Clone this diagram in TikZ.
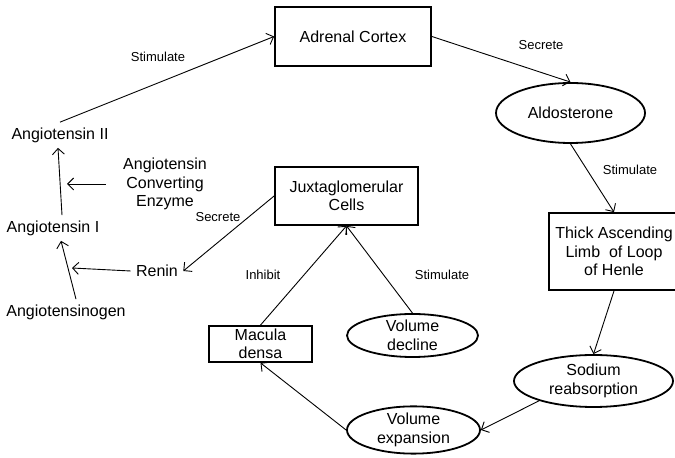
\documentclass[tikz,border=0pt]{standalone}
\usepackage{fontspec}
\setmainfont{Liberation Sans}
\usetikzlibrary{shapes.geometric,arrows.meta}
\begin{document}
\begin{tikzpicture}[x=0.5pt,y=-0.5pt,
  box/.style={draw,line width=0.9pt,align=center,inner sep=0pt,font=\fontsize{8}{9.25}\selectfont},
  oval/.style={ellipse,draw,line width=0.9pt,align=center,inner sep=0pt,font=\fontsize{8}{9.25}\selectfont},
  txt/.style={align=center,inner sep=2.5pt,font=\fontsize{8}{9.25}\selectfont},
  lbl/.style={inner sep=0pt,font=\fontsize{6.5}{8}\selectfont},
  arr/.style={-{Straight Barb[length=3pt,width=6pt]},line width=0.45pt}]
\useasboundingbox (0,0) rectangle (675,458);
\node[box,minimum width=78pt,minimum height=29.5pt] (adrenal) at (353,36.5) {Adrenal Cortex};
\node[oval,minimum width=74.5pt,minimum height=30pt] (aldo) at (570.5,113) {Aldosterone};
\node[box,minimum width=65pt,minimum height=38.5pt] (thick) at (614,251.5) {Thick Ascending\\Limb~ of Loop\\of Henle};
\node[oval,minimum width=79.5pt,minimum height=26pt] (sodium) at (593.5,381) {Sodium\\reabsorption};
\node[oval,minimum width=66.5pt,minimum height=22pt] (volexp) at (413.5,430) {Volume\\expansion};
\node[oval,minimum width=65.5pt,minimum height=21.5pt] (voldec) at (412.5,335.5) {Volume\\decline};
\node[box,minimum width=51.5pt,minimum height=18pt] (macula) at (260.5,344) {Macula\\densa};
\node[box,minimum width=71.5pt,minimum height=29pt] (jgc) at (346.5,196) {Juxtaglomerular\\Cells};
\node[txt] (ang2) at (60,135) {Angiotensin II};
\node[txt] (ace) at (165,184) {Angiotensin\\Converting\\Enzyme};
\node[txt] (ang1) at (53,228) {Angiotensin I};
\node[txt] (renin) at (157,271) {Renin};
\node[txt] (angen) at (66,312) {Angiotensinogen};
\coordinate (acejoin) at (67,184);
\coordinate (reninjoin) at (72,268);
\node[lbl] (lbla) at (158,57) {Stimulate};
\node[lbl] (lblb) at (541,45) {Secrete};
\node[lbl] (lblc) at (630,170) {Stimulate};
\node[lbl] (lbld) at (218,217) {Secrete};
\node[lbl] (lble) at (263,275) {Inhibit};
\node[lbl] (lblf) at (442,275) {Stimulate};
\draw[arr] (ang2.north) -- (adrenal.west);
\draw[arr] (adrenal.east) -- (aldo.north);
\draw[arr] (aldo.south) -- (thick.north);
\draw[arr] (thick.south) -- (sodium.north);
\draw[arr] (sodium.200) -- (volexp.east);
\draw[arr] (volexp.west) -- (macula.south);
\draw[arr] (macula.north) -- (jgc.south);
\draw[arr] (voldec.north) -- (jgc.south);
\draw[arr] (jgc.west) -- (renin.east);
\draw[arr] (renin.west) -- (reninjoin);
\draw[arr] ([xshift=5pt]angen.north) -- ([xshift=4pt]ang1.south);
\draw[arr] ([xshift=4.5pt]ang1.north) -- ([xshift=-1pt]ang2.south);
\draw[arr] ([xshift=-6pt]ace.west) -- (acejoin);
\end{tikzpicture}
\end{document}
